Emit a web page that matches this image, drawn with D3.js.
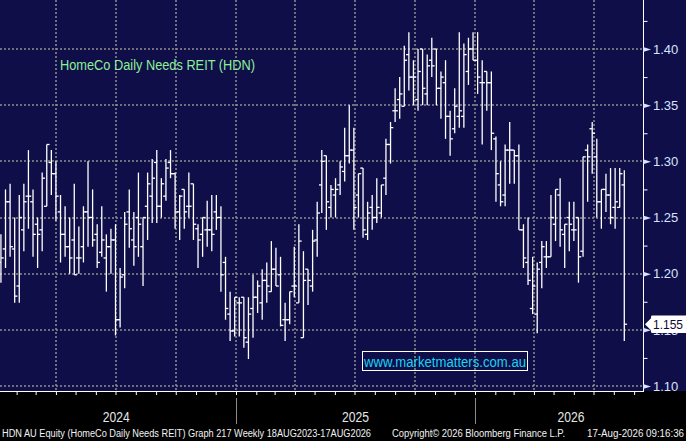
<!DOCTYPE html>
<html>
<head>
<meta charset="utf-8">
<script src="https://cdn.jsdelivr.net/npm/d3@7"></script>
<style>
  html, body { margin: 0; padding: 0; background: #000; }
  svg { display: block; font-family: "Liberation Sans", Arial, sans-serif; }
</style>
</head>
<body>
<svg id="chart"></svg>
<script>
// weekly OHLC bars, first bar dated 8 Jan 2024
const firstWeek = new Date(2024, 0, 8);

const open = [
  1.210, 1.222, 1.264, 1.222, 1.189, 1.239, 1.269, 1.264, 1.244, 1.239,
  1.260, 1.299, 1.289, 1.255, 1.235, 1.224, 1.230, 1.214, 1.224, 1.255,
  1.250, 1.235, 1.219, 1.214, 1.224, 1.230, 1.159, 1.199, 1.255, 1.230,
  1.250, 1.224, 1.260, 1.269, 1.299, 1.260, 1.269, 1.299, 1.289, 1.255,
  1.275, 1.260, 1.280, 1.240, 1.235, 1.239, 1.239, 1.255, 1.250, 1.210,
  1.164, 1.149, 1.174, 1.179, 1.139, 1.169, 1.179, 1.174, 1.194, 1.184,
  1.204, 1.199, 1.159, 1.159, 1.189, 1.174, 1.143, 1.204, 1.189, 1.230,
  1.279, 1.305, 1.259, 1.270, 1.279, 1.291, 1.305, 1.310, 1.270, 1.294,
  1.235, 1.259, 1.250, 1.254, 1.285, 1.315, 1.345, 1.355, 1.349, 1.395,
  1.375, 1.355, 1.400, 1.360, 1.390, 1.400, 1.365, 1.370, 1.340, 1.329,
  1.340, 1.340, 1.380, 1.400, 1.390, 1.370, 1.380, 1.370, 1.320, 1.279,
  1.270, 1.310, 1.310, 1.305, 1.239, 1.210, 1.169, 1.164, 1.210, 1.215,
  1.215, 1.244, 1.270, 1.235, 1.250, 1.239, 1.250, 1.220, 1.310, 1.329,
  1.304, 1.264, 1.275, 1.270, 1.259, 1.259, 1.279
];
const high = [
  1.235, 1.275, 1.280, 1.250, 1.270, 1.280, 1.310, 1.275, 1.250, 1.290,
  1.315, 1.310, 1.300, 1.270, 1.260, 1.250, 1.280, 1.242, 1.260, 1.300,
  1.275, 1.244, 1.260, 1.235, 1.240, 1.244, 1.205, 1.255, 1.275, 1.255,
  1.290, 1.250, 1.290, 1.302, 1.310, 1.285, 1.302, 1.310, 1.290, 1.270,
  1.275, 1.290, 1.280, 1.244, 1.250, 1.265, 1.270, 1.270, 1.260, 1.215,
  1.184, 1.179, 1.179, 1.179, 1.179, 1.199, 1.194, 1.204, 1.210, 1.229,
  1.223, 1.215, 1.174, 1.184, 1.224, 1.244, 1.220, 1.204, 1.239, 1.264,
  1.310, 1.305, 1.279, 1.285, 1.300, 1.330, 1.350, 1.330, 1.289, 1.294,
  1.264, 1.270, 1.285, 1.279, 1.320, 1.335, 1.365, 1.375, 1.403, 1.415,
  1.390, 1.400, 1.400, 1.395, 1.410, 1.400, 1.380, 1.390, 1.345, 1.365,
  1.415, 1.405, 1.410, 1.415, 1.415, 1.390, 1.380, 1.380, 1.322, 1.300,
  1.315, 1.335, 1.310, 1.315, 1.244, 1.250, 1.215, 1.210, 1.229, 1.229,
  1.270, 1.275, 1.285, 1.244, 1.264, 1.264, 1.250, 1.304, 1.315, 1.335,
  1.320, 1.275, 1.289, 1.294, 1.294, 1.294, 1.292
];
const low = [
  1.192, 1.205, 1.215, 1.174, 1.174, 1.220, 1.240, 1.215, 1.205, 1.220,
  1.260, 1.270, 1.247, 1.210, 1.215, 1.200, 1.199, 1.200, 1.210, 1.224,
  1.224, 1.205, 1.215, 1.184, 1.200, 1.145, 1.152, 1.187, 1.223, 1.207,
  1.215, 1.189, 1.230, 1.245, 1.245, 1.250, 1.265, 1.285, 1.240, 1.230,
  1.240, 1.250, 1.230, 1.205, 1.215, 1.224, 1.220, 1.239, 1.184, 1.159,
  1.140, 1.144, 1.144, 1.134, 1.124, 1.143, 1.165, 1.159, 1.174, 1.184,
  1.189, 1.153, 1.140, 1.155, 1.179, 1.174, 1.143, 1.172, 1.184, 1.215,
  1.254, 1.239, 1.250, 1.250, 1.270, 1.282, 1.298, 1.239, 1.250, 1.232,
  1.230, 1.239, 1.245, 1.250, 1.270, 1.298, 1.335, 1.338, 1.349, 1.363,
  1.350, 1.345, 1.350, 1.350, 1.375, 1.350, 1.338, 1.320, 1.305, 1.325,
  1.330, 1.330, 1.368, 1.390, 1.360, 1.315, 1.345, 1.310, 1.264, 1.260,
  1.260, 1.280, 1.280, 1.239, 1.205, 1.190, 1.164, 1.147, 1.187, 1.205,
  1.215, 1.229, 1.224, 1.205, 1.220, 1.229, 1.192, 1.215, 1.264, 1.289,
  1.250, 1.240, 1.255, 1.244, 1.240, 1.259, 1.140
];
const close = [
  1.214, 1.264, 1.224, 1.180, 1.250, 1.264, 1.269, 1.235, 1.235, 1.285,
  1.315, 1.289, 1.269, 1.235, 1.224, 1.214, 1.199, 1.214, 1.255, 1.250,
  1.230, 1.210, 1.230, 1.224, 1.230, 1.159, 1.197, 1.244, 1.240, 1.224,
  1.244, 1.250, 1.280, 1.285, 1.260, 1.280, 1.294, 1.289, 1.255, 1.269,
  1.255, 1.260, 1.244, 1.230, 1.250, 1.239, 1.235, 1.250, 1.199, 1.169,
  1.149, 1.179, 1.174, 1.143, 1.164, 1.179, 1.189, 1.194, 1.189, 1.204,
  1.189, 1.154, 1.159, 1.184, 1.189, 1.229, 1.194, 1.194, 1.229, 1.254,
  1.300, 1.264, 1.275, 1.275, 1.295, 1.305, 1.310, 1.259, 1.289, 1.239,
  1.254, 1.250, 1.259, 1.279, 1.315, 1.330, 1.345, 1.360, 1.390, 1.375,
  1.375, 1.380, 1.365, 1.385, 1.385, 1.365, 1.375, 1.340, 1.320, 1.349,
  1.345, 1.395, 1.400, 1.390, 1.375, 1.370, 1.370, 1.325, 1.289, 1.264,
  1.310, 1.310, 1.305, 1.239, 1.214, 1.194, 1.189, 1.204, 1.224, 1.215,
  1.250, 1.275, 1.239, 1.244, 1.244, 1.239, 1.215, 1.304, 1.304, 1.325,
  1.264, 1.275, 1.270, 1.250, 1.264, 1.289, 1.155
];

const priceTicks = [1.10, 1.15, 1.20, 1.25, 1.30, 1.35, 1.40];
const minorTicks = [1.125, 1.175, 1.225, 1.275, 1.325, 1.375, 1.425];
const years = [2024, 2025, 2026];

const title = "HomeCo Daily Needs REIT (HDN)";
const website = "www.marketmatters.com.au";
const footerLeft = "HDN AU Equity (HomeCo Daily Needs REIT) Graph 217 Weekly 18AUG2023-17AUG2026";
const footerMid = "Copyright\u00a9 2026 Bloomberg Finance L.P.";
const footerRight = "17-Aug-2026 09:16:36";

const W = 686, H = 441;
const plotRight = 643, plotBottom = 391;
const navy = "#0f0e48";

const svg = d3.select("#chart").attr("width", W).attr("height", H);

svg.append("rect").attr("width", W).attr("height", H).attr("fill", "#000");
svg.append("rect").attr("width", W).attr("height", plotBottom).attr("fill", navy);

// time scale: 1 Jan 2025 -> 236px, 1 Jan 2026 -> 475px
const x = d3.scaleTime()
  .domain([new Date(2025, 0, 1), new Date(2026, 0, 1)])
  .range([236, 475]);
x.domain([x.invert(0), x.invert(plotRight)]).range([0, plotRight]);

const y = d3.scaleLinear().domain([1.10, 1.40]).range([386, 49]);

const bars = open.map((o, i) => ({
  date: d3.timeDay.offset(firstWeek, 7 * i),
  o: o, h: high[i], l: low[i], c: close[i]
}));

// grid
const grid = svg.append("g")
  .attr("stroke", "#8f8f8f")
  .attr("stroke-width", 1.5)
  .attr("stroke-dasharray", "2,2");

grid.selectAll(".hg")
  .data(priceTicks)
  .join("line")
  .attr("x1", 0).attr("x2", plotRight)
  .attr("y1", (d) => Math.round(y(d))).attr("y2", (d) => Math.round(y(d)));

grid.selectAll(".vg")
  .data(x.ticks(d3.timeMonth.every(3)))
  .join("line")
  .attr("x1", (d) => Math.round(x(d))).attr("x2", (d) => Math.round(x(d)))
  .attr("y1", 0).attr("y2", plotBottom);

// ohlc bars
const clip = svg.append("clipPath").attr("id", "plotclip");
clip.append("rect").attr("width", plotRight).attr("height", plotBottom);

const barG = svg.append("g")
  .attr("clip-path", "url(#plotclip)")
  .attr("stroke", "#fff")
  .attr("stroke-width", 1.3);

const bar = barG.selectAll("g")
  .data(bars)
  .join("g")
  .attr("transform", (d) => `translate(${x(d.date)},0)`);

bar.append("line")
  .attr("x1", 0).attr("x2", 0)
  .attr("y1", (d) => y(d.h)).attr("y2", (d) => y(d.l));
bar.append("line")
  .attr("x1", -2.8).attr("x2", 0)
  .attr("y1", (d) => y(d.o)).attr("y2", (d) => y(d.o));
bar.append("line")
  .attr("x1", 0).attr("x2", 2.8)
  .attr("y1", (d) => y(d.c)).attr("y2", (d) => y(d.c));

// title
svg.append("text")
  .attr("x", 60).attr("y", 70)
  .attr("font-size", 14)
  .attr("fill", "#8cee96")
  .attr("textLength", 195)
  .attr("lengthAdjust", "spacingAndGlyphs")
  .text(title);

// website box
svg.append("rect")
  .attr("x", 362.5).attr("y", 351.5)
  .attr("width", 165).attr("height", 19)
  .attr("fill", "none").attr("stroke", "#fff").attr("stroke-width", 1);
svg.append("text")
  .attr("x", 364).attr("y", 366.5)
  .attr("font-size", 14)
  .attr("fill", "#18d4f2")
  .attr("textLength", 162)
  .attr("lengthAdjust", "spacingAndGlyphs")
  .text(website);

// right axis
const axisColor = "#d8e4ff";
svg.append("line")
  .attr("x1", plotRight + 0.5).attr("x2", plotRight + 0.5)
  .attr("y1", 0).attr("y2", plotBottom)
  .attr("stroke", "#fff").attr("stroke-width", 1);

const minorAxis = svg.append("g")
  .attr("transform", `translate(${plotRight + 0.5},0)`)
  .call(d3.axisRight(y).tickValues(minorTicks).tickSize(4).tickFormat(""));
minorAxis.select(".domain").remove();
minorAxis.selectAll("line").attr("stroke", "#fff");

const yAxis = svg.append("g")
  .attr("transform", `translate(${plotRight},0)`)
  .call(d3.axisRight(y).tickValues(priceTicks).tickSize(0).tickPadding(10)
    .tickFormat(d3.format(".2f")));
yAxis.select(".domain").remove();
yAxis.selectAll("text")
  .attr("font-family", "Liberation Sans, Arial, sans-serif")
  .attr("font-size", 13)
  .attr("fill", axisColor)
  .attr("dy", "0.33em");
yAxis.selectAll(".tick")
  .append("path")
  .attr("d", "M0,-2.5L8,0L0,2.5Z")
  .attr("fill", axisColor);

// last price label
const last = close[close.length - 1];
const yc = y(last);
svg.append("path")
  .attr("d", `M645,${yc} L651,${yc - 6} L651,${yc - 7.5} Q651,${yc - 8.6} 652.5,${yc - 8.6}
    L686,${yc - 8.6} L686,${yc + 8.7} L652.5,${yc + 8.7} Q651,${yc + 8.7} 651,${yc + 7.5}
    L651,${yc + 6} Z`)
  .attr("fill", "#fff");
svg.append("text")
  .attr("x", 653).attr("y", yc + 4.6)
  .attr("font-size", 13)
  .attr("fill", "#0b0a30")
  .attr("textLength", 30)
  .attr("lengthAdjust", "spacingAndGlyphs")
  .text(d3.format(".3f")(last));

// bottom axis
const xAxis = svg.append("g")
  .attr("transform", `translate(0,${plotBottom})`)
  .call(d3.axisBottom(x).ticks(d3.timeMonth.every(1)).tickSize(4).tickFormat(""));
xAxis.select(".domain").remove();
xAxis.selectAll("line").attr("stroke", "#fff");
svg.append("line")
  .attr("x1", 0).attr("x2", plotRight + 1)
  .attr("y1", plotBottom + 0.5).attr("y2", plotBottom + 0.5)
  .attr("stroke", "#fff");

// year separators and labels
const visibleEnd = 667;
years.forEach((yr) => {
  const start = x(new Date(yr, 0, 1));
  const end = Math.min(x(new Date(yr + 1, 0, 1)), visibleEnd);
  if (start > 0) {
    svg.append("line")
      .attr("x1", Math.round(start) + 0.5).attr("x2", Math.round(start) + 0.5)
      .attr("y1", 398).attr("y2", 424)
      .attr("stroke", "#8a8a8a");
  }
  svg.append("text")
    .attr("x", (Math.max(start, -4) + end) / 2)
    .attr("y", 422)
    .attr("text-anchor", "middle")
    .attr("font-size", 14)
    .attr("fill", "#e6e6e6")
    .attr("textLength", 27)
    .attr("lengthAdjust", "spacingAndGlyphs")
    .text(yr);
});

// footer
const foot = svg.append("g").attr("font-size", 10).attr("fill", "#f2f2f2");
foot.append("text").attr("x", 2).attr("y", 437)
  .attr("textLength", 369).attr("lengthAdjust", "spacingAndGlyphs").text(footerLeft);
foot.append("text").attr("x", 392).attr("y", 437)
  .attr("textLength", 173).attr("lengthAdjust", "spacingAndGlyphs").text(footerMid);
foot.append("text").attr("x", 587).attr("y", 437)
  .attr("textLength", 97).attr("lengthAdjust", "spacingAndGlyphs").text(footerRight);
</script>
</body>
</html>
